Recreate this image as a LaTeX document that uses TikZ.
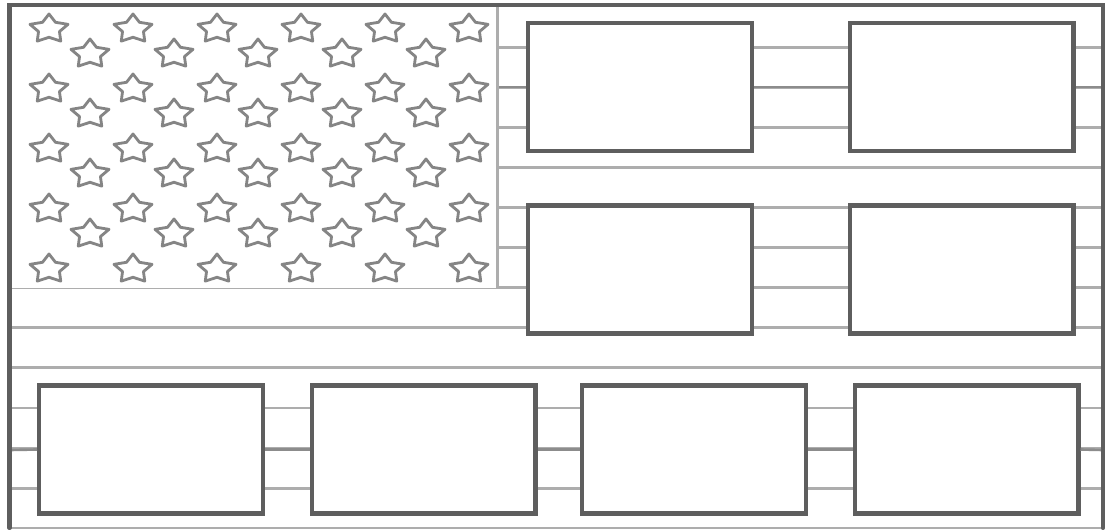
\documentclass[tikz,border=0pt]{standalone}
\usepackage{tikz}
\definecolor{ink}{HTML}{5E5E5E}
\definecolor{stripe}{HTML}{ADADAD}
\definecolor{mid}{HTML}{8C8C8C}
\definecolor{starline}{HTML}{858585}

\begin{document}
\begin{tikzpicture}[
  x=0.02cm,y=-0.02cm,
  edge/.style={draw=ink,line width=2.3pt,line cap=round},
  stripeline/.style={draw=stripe,line width=1.7pt},
  link/.style={draw=mid,line width=1.5pt},
  flagbox/.style={draw=ink,fill=white,line width=2.3pt,inner sep=0pt,
    minimum width=4.48cm,minimum height=2.56cm},
  st/.style={draw=starline,line width=1.6pt,line join=round},
  flagstar/.pic={\draw[st] (-90:20 and 15) -- (-54:11 and 8.3) -- (-18:20 and 15)
    -- (18:11 and 8.3) -- (54:20 and 15) -- (90:11 and 8.3) -- (126:20 and 15)
    -- (162:11 and 8.3) -- (198:20 and 15) -- (234:11 and 8.3) -- cycle;},
]
\fill[white] (0,0) rectangle (1105,530);
\useasboundingbox (0,0) rectangle (1105,530);

% stripes: short ones right of the canton, long ones below it
\foreach \k in {1,...,6}
  \draw[stripeline] (497,{7+40.1*\k}) -- (1103,{7+40.1*\k});
\foreach \k in {7,...,12}
  \draw[stripeline] (9.5,{7+40.1*\k}) -- (1103,{7+40.1*\k});
\draw[stripeline] (9.5,528) -- (1103,528);

% free ends on the canton edge and the border
\coordinate (cantonT) at (497,87);
\coordinate (rightT) at (1103,87);
\coordinate (leftB) at (9.5,450);
\coordinate (rightB) at (1103,450);

% top row
\node[flagbox] (t1) at (640,87) {};
\node[flagbox] (t2) at (961.5,87) {};
\draw[link] (cantonT) -- (t1.west);
\draw[link] (t1.east) -- (t2.west);
\draw[link] (t2.east) -- (rightT);

% middle row
\node[flagbox] (m1) at (640,269.5) {};
\node[flagbox] (m2) at (961.5,269.5) {};

% bottom row
\node[flagbox] (b1) at (151,449.5) {};
\node[flagbox] (b2) at (423.5,449.5) {};
\node[flagbox] (b3) at (694,449.5) {};
\node[flagbox] (b4) at (966.5,449.5) {};
\draw[link] (leftB) -- (b1.west);
\draw[link] (b1.east) -- (b2.west); \draw[link] (b2.east) -- (b3.west);
\draw[link] (b3.east) -- (b4.west); \draw[link] (b4.east) -- (rightB);

% canton with stars
\fill[white] (9.5,5) rectangle (497,287.7);
\draw[stripeline] (497,5) -- (497,287.7);
\foreach \y in {29,89,149,209,269}
  \foreach \x in {49,133,...,469}
    \pic at (\x,\y) {flagstar};
\foreach \y in {54,114,174,234}
  \foreach \x in {90,174,...,426}
    \pic at (\x,\y) {flagstar};

% border
\draw[edge] (9.5,528) -- (9.5,5) -- (1103,5) -- (1103,528);
\end{tikzpicture}
\end{document}
